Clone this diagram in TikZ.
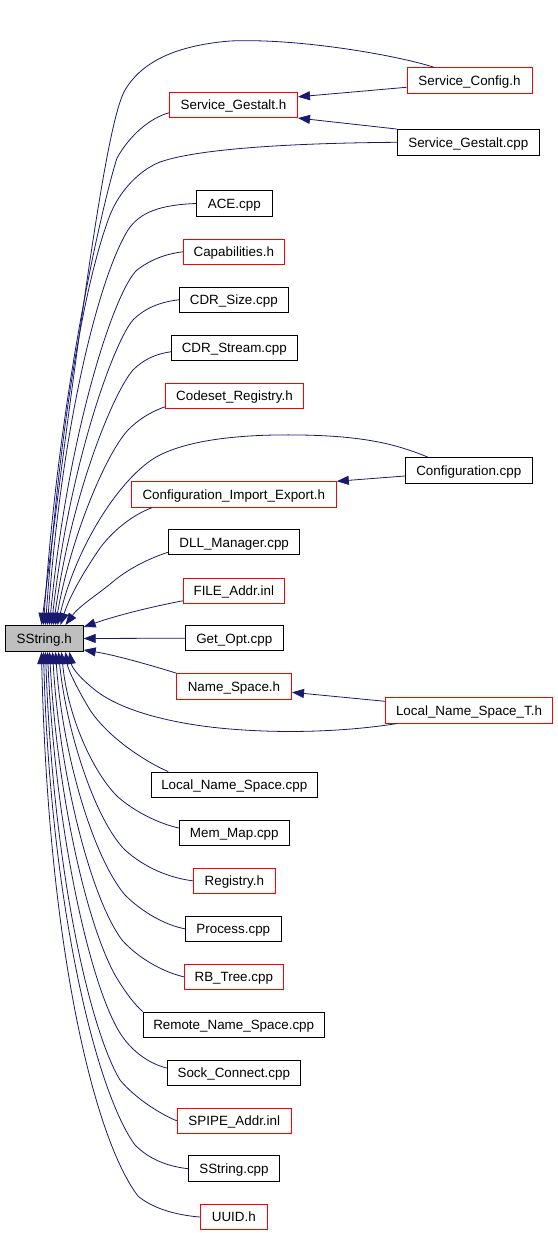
\documentclass[tikz,border=0pt]{standalone}
\usepackage{fontspec}
\setmainfont{Liberation Sans}
\usetikzlibrary{arrows.meta}
\definecolor{edgeblue}{HTML}{191970}
\definecolor{boxred}{HTML}{FF0000}
\definecolor{boxgrey}{HTML}{BFBFBF}
\begin{document}
\begin{tikzpicture}[x=1pt,y=-1pt,
  box/.style={draw, line width=1pt, inner sep=0pt, minimum height=25.5pt,
    font=\fontsize{13.4}{15}\selectfont, text height=9.6pt, text depth=0pt},
  redbox/.style={box, draw=boxred},
  blackbox/.style={box, draw=black},
  edge/.style={draw=edgeblue, line width=0.8pt, -{Triangle[length=12pt,width=9pt]}}
]
\useasboundingbox (0,0) rectangle (557,1233);
\node[blackbox, fill=boxgrey, minimum width=78pt, minimum height=26pt] (s) at (44.2,638.5) {SString.h};
\node[redbox, minimum width=125pt] (sc) at (469.5,80.7) {Service\_Config.h};
\node[redbox, minimum width=128pt] (sgh) at (233.5,104.8) {Service\_Gestalt.h};
\node[blackbox, minimum width=142pt] (sgc) at (468.3,142.3) {Service\_Gestalt.cpp};
\node[blackbox, minimum width=76pt] (ace) at (234.3,203.5) {ACE.cpp};
\node[redbox, minimum width=101pt] (cap) at (233.8,251.8) {Capabilities.h};
\node[blackbox, minimum width=109pt] (cds) at (233.8,299.8) {CDR\_Size.cpp};
\node[blackbox, minimum width=126pt] (cdst) at (234.3,347.8) {CDR\_Stream.cpp};
\node[redbox, minimum width=138pt] (cr) at (234.5,395.8) {Codeset\_Registry.h};
\node[blackbox, minimum width=127pt] (cfg) at (468.8,470.3) {Configuration.cpp};
\node[redbox, minimum width=205pt] (cie) at (233.8,494.5) {Configuration\_Import\_Export.h};
\node[blackbox, minimum width=131pt] (dll) at (234.2,542.2) {DLL\_Manager.cpp};
\node[redbox, minimum width=101pt] (fa) at (233.8,590.8) {FILE\_Addr.inl};
\node[blackbox, minimum width=98pt] (go) at (234.3,638.2) {Get\_Opt.cpp};
\node[redbox, minimum width=115pt] (ns) at (234,686.3) {Name\_Space.h};
\node[redbox, minimum width=167pt] (lnst) at (469,710.3) {Local\_Name\_Space\_T.h};
\node[blackbox, minimum width=166pt] (lns) at (234.3,784.8) {Local\_Name\_Space.cpp};
\node[blackbox, minimum width=110pt] (mm) at (234.3,833) {Mem\_Map.cpp};
\node[redbox, minimum width=82pt] (reg) at (234.3,880.8) {Registry.h};
\node[blackbox, minimum width=96pt] (pro) at (233.3,928.8) {Process.cpp};
\node[redbox, minimum width=99pt] (rb) at (233.8,976.8) {RB\_Tree.cpp};
\node[blackbox, minimum width=181pt] (rns) at (233.7,1024.8) {Remote\_Name\_Space.cpp};
\node[blackbox, minimum width=133pt] (sock) at (233.8,1073) {Sock\_Connect.cpp};
\node[redbox, minimum width=114pt] (sp) at (234.3,1120.8) {SPIPE\_Addr.inl};
\node[blackbox, minimum width=91pt] (ssc) at (234,1168.7) {SString.cpp};
\node[redbox, minimum width=67pt] (uu) at (233.8,1217) {UUID.h};

% edges to SString.h (top)
\draw[edge] ([xshift=-35pt]sc.north) .. controls (400,56) and (300,38) .. (230,41) .. controls (170,46) and (140,65) .. (125,90) .. controls (108,120) and (85,280) .. ([xshift=36.8pt]s.north west);
\draw[edge] ([yshift=-8pt]sgh.west) .. controls (150,118) and (130,135) .. (117,158) .. controls (105,195) and (60,380) .. ([xshift=38.8pt]s.north west);
\draw[edge] (sgc.west) .. controls (300,143) and (200,148) .. (160,162) .. controls (140,170) and (120,190) .. (110,215) .. controls (85,280) and (60,420) .. ([xshift=40.8pt]s.north west);
\draw[edge] (ace.west) .. controls (160,205) and (140,212) .. (128,230) .. controls (100,275) and (62,420) .. ([xshift=42.8pt]s.north west);
\draw[edge] (cap.west) .. controls (165,254) and (150,260) .. (137,270) .. controls (115,290) and (68,430) .. ([xshift=44.8pt]s.north west);
\draw[edge] (cds.west) .. controls (160,302) and (145,308) .. (133,320) .. controls (115,340) and (70,460) .. ([xshift=46.8pt]s.north west);
\draw[edge] ([yshift=-4pt]cdst.west) .. controls (155,354) and (143,360) .. (133,370) .. controls (115,390) and (72,490) .. ([xshift=48.8pt]s.north west);
\draw[edge] ([yshift=-11pt]cr.west) .. controls (150,412) and (138,420) .. (128,430) .. controls (105,455) and (70,540) .. ([xshift=50.8pt]s.north west);
\draw[edge] ([xshift=-41pt]cfg.north) .. controls (400,446) and (370,436) .. (300,435) .. controls (240,434) and (190,440) .. (160,455) .. controls (125,472) and (78,540) .. ([xshift=52.8pt]s.north west);
\draw[edge] ([xshift=-82pt]cie.south) .. controls (135,514) and (115,528) .. (100,548) .. controls (85,570) and (70,595) .. ([xshift=55.8pt]s.north west);
\draw[edge] ([yshift=-10pt]dll.west) .. controls (150,558) and (130,568) .. (115,580) .. controls (100,593) and (80,605) .. ([xshift=60.8pt]s.north west);
\draw[edge] ([yshift=-10pt]fa.west) .. controls (150,607) and (115,616) .. ([yshift=-2pt]s.north east);
\draw[edge] (go.west) -- (s.east);
\draw[edge] (ns.north west) .. controls (150,665) and (115,655) .. ([yshift=2pt]s.south east);
% edges to SString.h (bottom)
\draw[edge] ([xshift=-72pt]lnst.south) .. controls (350,731) and (290,734) .. (230,729) .. controls (170,724) and (120,710) .. (95,690) .. controls (80,678) and (72,668) .. ([xshift=64.8pt]s.south west);
\draw[edge] ([xshift=-66pt]lns.north) .. controls (150,764) and (110,740) .. (90,710) .. controls (78,690) and (68,670) .. ([xshift=60.8pt]s.south west);
\draw[edge] ([yshift=5pt]mm.west) .. controls (160,824) and (135,812) .. (118,797) .. controls (95,775) and (68,720) .. ([xshift=56.8pt]s.south west);
\draw[edge] (reg.west) .. controls (170,878) and (145,868) .. (125,850) .. controls (95,820) and (66,730) .. ([xshift=53.8pt]s.south west);
\draw[edge] (pro.west) .. controls (165,925) and (142,912) .. (125,895) .. controls (95,860) and (63,760) .. ([xshift=50.8pt]s.south west);
\draw[edge] (rb.west) .. controls (163,972) and (138,958) .. (122,940) .. controls (92,900) and (60,780) .. ([xshift=47.8pt]s.south west);
\draw[edge] (rns.north west) .. controls (135,1005) and (125,992) .. (115,975) .. controls (85,920) and (57,790) .. ([xshift=44.8pt]s.south west);
\draw[edge] ([yshift=5pt]sock.west) .. controls (150,1064) and (132,1052) .. (120,1033) .. controls (90,985) and (55,830) .. ([xshift=42.8pt]s.south west);
\draw[edge] (sp.west) .. controls (160,1114) and (135,1098) .. (120,1080) .. controls (90,1030) and (53,870) .. ([xshift=40.8pt]s.south west);
\draw[edge] (ssc.west) .. controls (165,1166) and (148,1158) .. (135,1145) .. controls (95,1090) and (50,900) .. ([xshift=38.8pt]s.south west);
\draw[edge] (uu.west) .. controls (175,1215) and (152,1208) .. (138,1196) .. controls (95,1140) and (48,950) .. ([xshift=36.8pt]s.south west);
% other edges
\draw[edge] ([yshift=-6.6pt]sc.west) -- ([yshift=8pt]sgh.east);
\draw[edge] (sgc.north west) -- (sgh.south east);
\draw[edge] ([yshift=-5.7pt]cfg.west) -- (cie.north east);
\draw[edge] ([yshift=9pt]lnst.west) -- ([yshift=-6pt]ns.east);
\end{tikzpicture}
\end{document}
